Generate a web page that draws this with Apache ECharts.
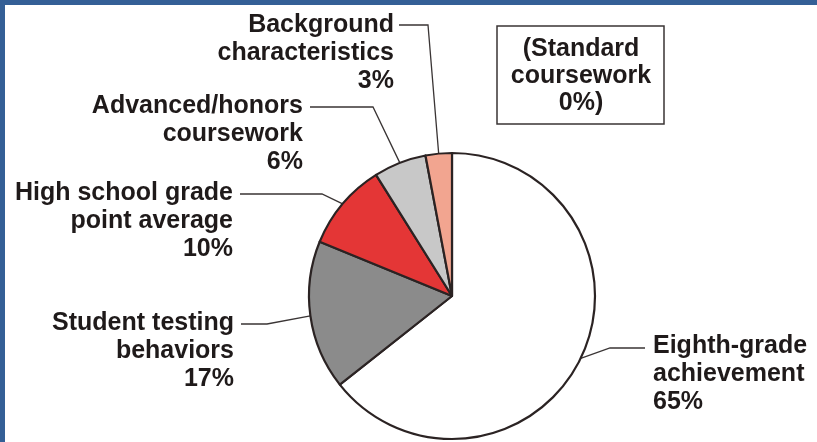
<!DOCTYPE html>
<html>
<head>
<meta charset="utf-8">
<script src="https://cdn.jsdelivr.net/npm/echarts@6/dist/echarts.min.js"></script>
<style>
  html, body { margin: 0; padding: 0; background: #fff; }
  #chart { width: 817px; height: 442px; }
</style>
</head>
<body>
<div id="chart"></div>
<script>
// data, clockwise from 12 o'clock
var categories = [
  "Eighth-grade\nachievement",
  "Student testing\nbehaviors",
  "High school grade\npoint average",
  "Advanced/honors\ncoursework",
  "Background\ncharacteristics"
];
var shares = [65, 17, 10, 6, 3];
var colors = ["#ffffff", "#8b8b8b", "#e43636", "#c8c8c8", "#f2a590"];
var noteLines = ["(Standard", "coursework", "0%)"];

// label placement: [x, top, align, elbowX, elbowY, endX]
var labelPos = [
  [653, 332, "left", 610, 348, 645],
  [234, 309, "right", 267, 324, 241],
  [233, 179, "right", 322, 194, 240],
  [303, 92, "right", 373, 107, 310],
  [394, 11, "right", 428, 25, 399]
];

var textColor = "#1f1a1a";
var font = "'Liberation Sans', Arial, sans-serif";

var chart = echarts.init(document.getElementById("chart"));

chart.setOption({
  animation: false,
  backgroundColor: "#ffffff",
  graphic: [
    { type: "rect", shape: { x: 0, y: 0, width: 817, height: 5 }, style: { fill: "#345f96" } },
    { type: "rect", shape: { x: 0, y: 0, width: 5, height: 442 }, style: { fill: "#345f96" } },
    {
      type: "rect",
      shape: { x: 497, y: 26, width: 167, height: 98 },
      style: { fill: "#fff", stroke: "#3a3535", lineWidth: 1.5 }
    },
    {
      type: "text",
      x: 581,
      y: 36,
      style: {
        text: noteLines.join("\n"),
        align: "center",
        verticalAlign: "top",
        fill: textColor,
        font: "bold 25px " + font,
        lineHeight: 27
      }
    }
  ],
  series: [
    {
      type: "pie",
      center: [452, 296],
      radius: 143,
      startAngle: 90,
      clockwise: true,
      silent: true,
      data: categories.map(function (c, i) {
        return { name: c, value: shares[i], itemStyle: { color: colors[i] } };
      }),
      itemStyle: { borderColor: "#2b2323", borderWidth: 2.2 },
      label: {
        show: true,
        position: "outside",
        formatter: "{b}\n{c}%",
        color: textColor,
        fontFamily: font,
        fontWeight: "bold",
        fontSize: 25,
        lineHeight: 28
      },
      labelLine: {
        show: true,
        lineStyle: { color: "#3a3535", width: 1.3 }
      },
      labelLayout: function (params) {
        var p = labelPos[params.dataIndex];
        var start = params.labelLinePoints ? params.labelLinePoints[0] : [p[3], p[4]];
        return {
          x: p[0],
          y: p[1],
          align: p[2],
          verticalAlign: "top",
          labelLinePoints: [start, [p[3], p[4]], [p[5], p[4]]]
        };
      }
    }
  ]
});
</script>
</body>
</html>
